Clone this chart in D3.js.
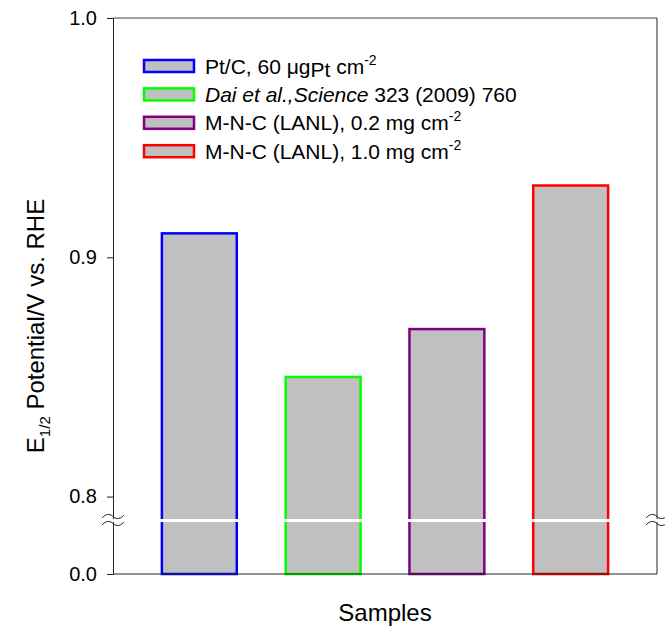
<!DOCTYPE html>
<html>
<head>
<meta charset="utf-8">
<script src="https://cdn.jsdelivr.net/npm/d3@7"></script>
<style>
  body { margin: 0; background: white; }
  text { font-family: Arial, "Liberation Sans", sans-serif; }
</style>
</head>
<body>
<script>
// data
const samples = ["Pt/C", "Dai", "MNC02", "MNC10"];
const values = [0.91, 0.85, 0.87, 0.93];
const colors = ["#0000ff", "#00ff00", "#800080", "#ff0000"];
const yTicks = [0.0, 0.8, 0.9, 1.0];

const W = 665, H = 628;
const plotLeft = 113, plotRight = 657, plotTop = 18, plotBottom = 574;
const breakY = 520.5;

const svg = d3.select("body").append("svg")
    .attr("width", W)
    .attr("height", H);

// broken axis: 0 -> 0.79 squeezed into the bottom strip
const y = d3.scaleLinear()
    .domain([0, 0.79, 1.0])
    .range([plotBottom, breakY, plotTop]);

const x = d3.scaleBand()
    .domain(samples)
    .range([plotLeft, plotRight])
    .padding(0.395);

// bars
svg.selectAll(".bar")
    .data(values)
    .enter()
    .append("rect")
    .attr("class", "bar")
    .attr("x", (d, i) => x(samples[i]))
    .attr("y", d => y(d))
    .attr("width", x.bandwidth())
    .attr("height", d => y(0) - y(d))
    .style("fill", "#c0c0c0")
    .style("stroke", (d, i) => colors[i])
    .style("stroke-width", 2.5);

// left axis
const yAxis = svg.append("g")
    .attr("transform", `translate(${plotLeft},0)`)
    .call(d3.axisLeft(y).tickValues(yTicks).tickFormat(d3.format(".1f")).tickSizeOuter(0).tickSize(6).tickPadding(10));
yAxis.selectAll("text").style("font-size", "20px").style("fill", "#000");
yAxis.selectAll("line, path").style("stroke", "#222");

// frame: bottom, top, right
svg.append("line").attr("x1", plotLeft).attr("x2", plotRight).attr("y1", plotBottom).attr("y2", plotBottom).style("stroke", "#222");
svg.append("line").attr("x1", plotLeft).attr("x2", plotRight).attr("y1", plotTop).attr("y2", plotTop).style("stroke", "#444");
svg.append("line").attr("x1", plotRight).attr("x2", plotRight).attr("y1", plotTop).attr("y2", plotBottom).style("stroke", "#222");

// white gap across everything at the break
svg.append("rect")
    .attr("x", 100)
    .attr("y", breakY - 1.5)
    .attr("width", W - 100)
    .attr("height", 3)
    .style("fill", "white");

// break squiggles
function squiggle(cx, cy) {
    const p = d3.path();
    p.moveTo(cx - 11, cy + 1.5);
    p.bezierCurveTo(cx - 6, cy - 4, cx - 2, cy - 2, cx, cy);
    p.bezierCurveTo(cx + 2, cy + 2, cx + 6, cy + 4, cx + 11, cy - 1.5);
    return p.toString();
}
[plotLeft, plotRight].forEach(cx => {
    [breakY - 4, breakY + 3].forEach(cy => {
        svg.append("path")
            .attr("d", squiggle(cx, cy))
            .style("fill", "none")
            .style("stroke", "#222")
            .style("stroke-width", 1);
    });
});

// legend
const legend = svg.append("g").attr("transform", "translate(144,66)");
const rowH = 28.4;
legend.selectAll("rect")
    .data(colors)
    .enter()
    .append("rect")
    .attr("x", 0)
    .attr("y", (d, i) => i * rowH - 6)
    .attr("width", 50)
    .attr("height", 12)
    .style("fill", "#c0c0c0")
    .style("stroke", d => d)
    .style("stroke-width", 2.5);

const lt = (i) => legend.append("text")
    .attr("x", 61)
    .attr("y", i * rowH + 7.5)
    .style("font-size", "21px");

let t = lt(0);
t.append("tspan").text("Pt/C, 60 \u03bcg");
t.append("tspan").attr("dy", 3).text("Pt");
t.append("tspan").attr("dy", -3).text(" cm");
t.append("tspan").attr("dy", -9).style("font-size", "14px").text("-2");

t = lt(1);
t.append("tspan").style("font-style", "italic").text("Dai et al.,Science");
t.append("tspan").text(" 323 (2009) 760");

t = lt(2);
t.append("tspan").text("M-N-C (LANL), 0.2 mg cm");
t.append("tspan").attr("dy", -9).style("font-size", "14px").text("-2");

t = lt(3);
t.append("tspan").text("M-N-C (LANL), 1.0 mg cm");
t.append("tspan").attr("dy", -9).style("font-size", "14px").text("-2");

// axis titles
const yl = svg.append("text")
    .attr("transform", "translate(44,326) rotate(-90)")
    .attr("text-anchor", "middle")
    .style("font-size", "24px");
yl.append("tspan").text("E");
yl.append("tspan").attr("dy", 6).style("font-size", "15px").text("1/2");
yl.append("tspan").attr("dy", -6).text(" Potential/V vs. RHE");

svg.append("text")
    .attr("x", (plotLeft + plotRight) / 2)
    .attr("y", 621)
    .attr("text-anchor", "middle")
    .style("font-size", "24px")
    .text("Samples");
</script>
</body>
</html>
